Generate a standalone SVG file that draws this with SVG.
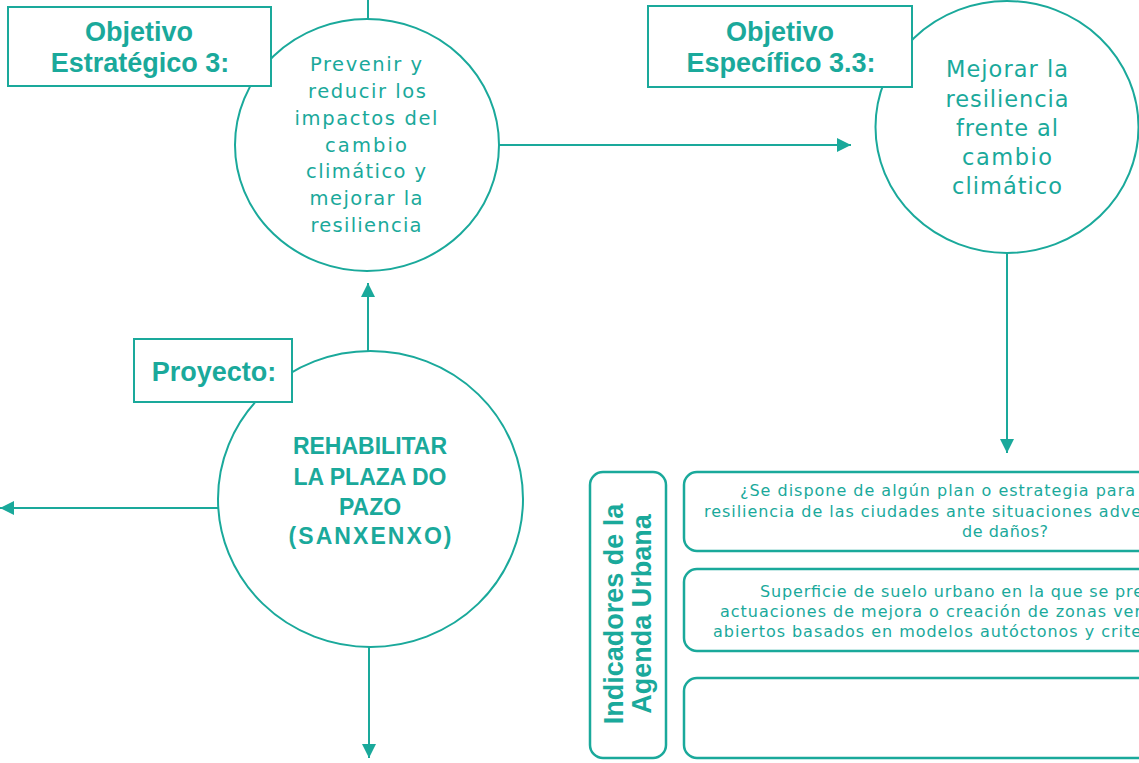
<svg xmlns="http://www.w3.org/2000/svg" width="1139" height="763" viewBox="0 0 1139 763">
<style>
.ln{stroke:#1aa99b;stroke-width:2;fill:none}
.shape{stroke:#1aa99b;stroke-width:2;fill:#fff}
.rbox{stroke:#1aa99b;stroke-width:2.5;fill:#fff}
.hd{font-family:"Liberation Sans",Arial,sans-serif;font-weight:bold;fill:#1aa99b;text-anchor:middle}
.bd{font-family:"DejaVu Sans","Liberation Sans",sans-serif;fill:#1aa99b}
.c{text-anchor:middle}
</style>
<defs>
<marker id="ah" viewBox="0 0 14 14" refX="14" refY="7" markerWidth="14" markerHeight="14" markerUnits="userSpaceOnUse" orient="auto">
<path d="M0,0 L14,7 L0,14 z" fill="#1aa99b"/>
</marker>
</defs>
<g id="connectors">
<line class="ln" x1="368" y1="0" x2="368" y2="20"/>
<line class="ln" x1="499" y1="145" x2="851" y2="145" marker-end="url(#ah)"/>
<line class="ln" x1="1007" y1="253" x2="1007" y2="453" marker-end="url(#ah)"/>
<line class="ln" x1="368" y1="351" x2="368" y2="283" marker-end="url(#ah)"/>
<line class="ln" x1="218" y1="508" x2="0" y2="508" marker-end="url(#ah)"/>
<line class="ln" x1="369" y1="647" x2="369" y2="758" marker-end="url(#ah)"/>
</g>
<g id="circle-oe3">
<ellipse class="shape" cx="367" cy="145" rx="132" ry="126"/>
<text class="bd c" font-size="19.5"><tspan x="366" y="71" textLength="112">Prevenir y</tspan><tspan x="367" y="98" textLength="118">reducir los</tspan><tspan x="366" y="125" textLength="143">impactos del</tspan><tspan x="366" y="152" textLength="82">cambio</tspan><tspan x="366" y="178" textLength="120">climático y</tspan><tspan x="366" y="205" textLength="113">mejorar la</tspan><tspan x="366" y="232" textLength="111">resiliencia</tspan></text>
</g>
<g id="box-oe3">
<rect class="shape" x="8" y="7" width="263" height="79"/>
<text class="hd" font-size="27"><tspan x="139" y="41">Objetivo</tspan><tspan x="140" y="72">Estratégico 3:</tspan></text>
</g>
<g id="circle-oe33">
<ellipse class="shape" cx="1007" cy="127" rx="131.5" ry="126"/>
<text class="bd c" font-size="22.5"><tspan x="1007" y="77" textLength="122">Mejorar la</tspan><tspan x="1007" y="107" textLength="123">resiliencia</tspan><tspan x="1007" y="136" textLength="102">frente al</tspan><tspan x="1007" y="165" textLength="90">cambio</tspan><tspan x="1007" y="194" textLength="110">climático</tspan></text>
</g>
<g id="box-oe33">
<rect class="shape" x="648" y="6" width="264" height="81"/>
<text class="hd" font-size="27"><tspan x="780" y="41">Objetivo</tspan><tspan x="781" y="72">Específico 3.3:</tspan></text>
</g>
<g id="circle-proyecto">
<ellipse class="shape" cx="370.5" cy="499" rx="152.5" ry="148"/>
<text class="hd" font-size="23"><tspan x="370" y="454">REHABILITAR</tspan><tspan x="370" y="485">LA PLAZA DO</tspan><tspan x="370" y="515">PAZO</tspan><tspan x="370" y="544" textLength="163">(SANXENXO)</tspan></text>
</g>
<g id="box-proyecto">
<rect class="shape" x="134" y="339" width="158" height="63"/>
<text class="hd" font-size="27" x="214" y="381">Proyecto:</text>
</g>
<g id="indicadores-label">
<rect class="rbox" x="590" y="472" width="76" height="286" rx="13"/>
<g transform="translate(623,614) rotate(-90)">
<text class="hd" font-size="27"><tspan x="0" y="0">Indicadores de la</tspan><tspan x="0" y="28">Agenda Urbana</tspan></text>
</g>
</g>
<g id="indicador-1">
<rect class="rbox" x="684" y="472" width="520" height="79" rx="13"/>
<text class="bd" font-size="16"><tspan x="740" y="496" textLength="395">¿Se dispone de algún plan o estrategia para</tspan><tspan x="704" y="517" textLength="437">resiliencia de las ciudades ante situaciones adve</tspan><tspan x="1005" y="537" text-anchor="middle" textLength="86">de daños?</tspan></text>
</g>
<g id="indicador-2">
<rect class="rbox" x="684" y="569" width="520" height="82" rx="13"/>
<text class="bd" font-size="16"><tspan x="760" y="597" textLength="383">Superficie de suelo urbano en la que se pre</tspan><tspan x="720" y="617" textLength="421">actuaciones de mejora o creación de zonas ver</tspan><tspan x="713" y="637" textLength="428">abiertos basados en modelos autóctonos y crite</tspan></text>
</g>
<g id="indicador-3">
<rect class="rbox" x="684" y="678" width="520" height="80" rx="13"/>
</g>
</svg>
